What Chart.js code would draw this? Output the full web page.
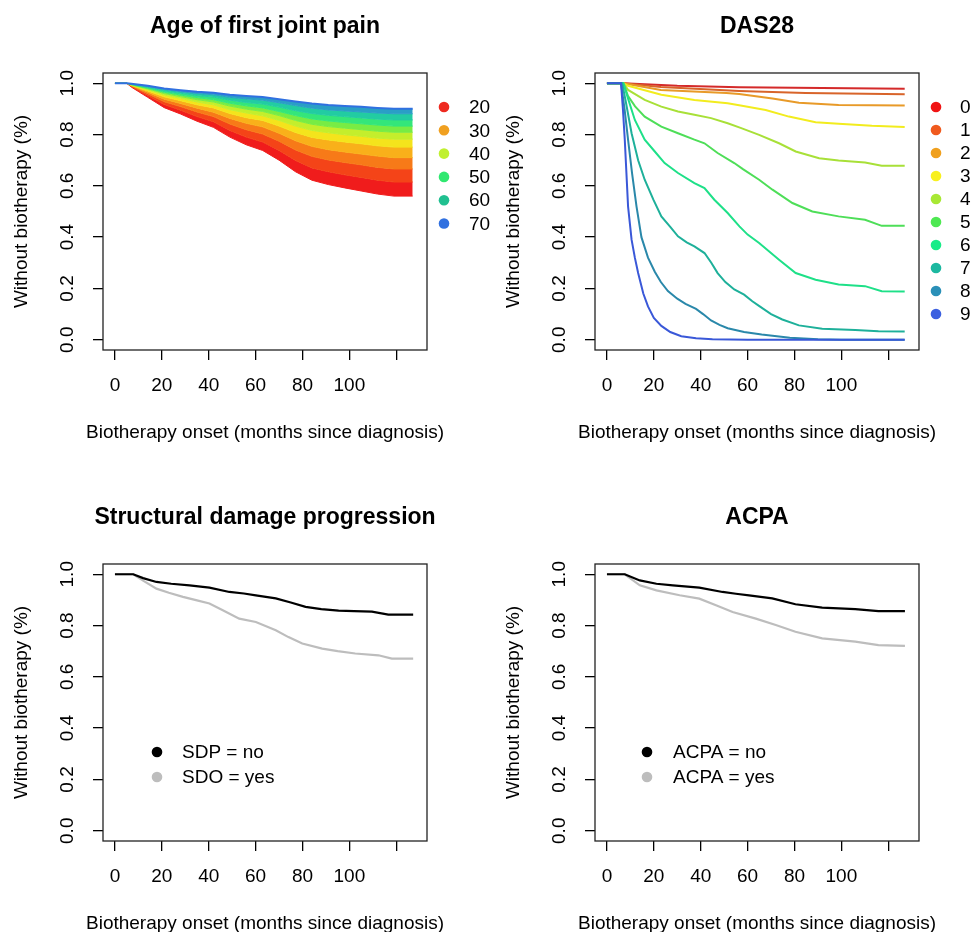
<!DOCTYPE html>
<html><head><meta charset="utf-8">
<script src="https://cdn.jsdelivr.net/npm/chart.js@4.4.1/dist/chart.umd.min.js"></script>
<style>
html,body{margin:0;padding:0;background:#fff;overflow:hidden;width:973px;height:932px;position:relative;}
canvas{position:absolute;}
</style></head><body>
<canvas id="c1" width="492" height="491" style="left:0;top:0"></canvas>
<canvas id="c2" width="492" height="491" style="left:492px;top:0"></canvas>
<canvas id="c3" width="492" height="491" style="left:0;top:491px"></canvas>
<canvas id="c4" width="492" height="491" style="left:492px;top:491px"></canvas>
<script>
// ---------- axis ticks ----------
const xTicks = [0, 20, 40, 60, 80, 100, 120];
const xTickLabels = ['0', '20', '40', '60', '80', '100', ''];
const yTicks = [0, 0.2, 0.4, 0.6, 0.8, 1.0];
const yTickLabels = ['0.0', '0.2', '0.4', '0.6', '0.8', '1.0'];
const xTitle = 'Biotherapy onset (months since diagnosis)';
const yTitle = 'Without biotherapy (%)';

// ---------- Panel 1: Age of first joint pain ----------
const ageTimes = [0, 5, 7, 14, 21, 28, 35, 42, 49, 56, 63, 70, 77, 84, 91, 98, 105, 112, 119, 127];
const age70 = [1, 1, 0.998, 0.990, 0.980, 0.973, 0.967, 0.963, 0.955, 0.950, 0.946, 0.938, 0.929, 0.921, 0.915, 0.911, 0.908, 0.904, 0.901, 0.901];
const age65 = [1, 1, 0.997, 0.987, 0.976, 0.967, 0.960, 0.955, 0.945, 0.939, 0.934, 0.924, 0.913, 0.903, 0.896, 0.892, 0.888, 0.884, 0.881, 0.881];
const age60 = [1, 1, 0.996, 0.984, 0.970, 0.961, 0.952, 0.946, 0.934, 0.925, 0.919, 0.907, 0.893, 0.882, 0.875, 0.870, 0.865, 0.860, 0.857, 0.857];
const age55 = [1, 1, 0.995, 0.981, 0.965, 0.954, 0.944, 0.936, 0.922, 0.912, 0.904, 0.890, 0.874, 0.861, 0.853, 0.847, 0.842, 0.837, 0.833, 0.833];
const age50 = [1, 1, 0.994, 0.978, 0.960, 0.948, 0.936, 0.927, 0.911, 0.899, 0.890, 0.874, 0.855, 0.840, 0.831, 0.825, 0.819, 0.813, 0.809, 0.809];
const age45 = [1, 1, 0.993, 0.974, 0.954, 0.941, 0.927, 0.916, 0.897, 0.884, 0.873, 0.855, 0.833, 0.816, 0.807, 0.799, 0.793, 0.786, 0.782, 0.782];
const age40 = [1, 1, 0.992, 0.970, 0.947, 0.932, 0.916, 0.904, 0.882, 0.866, 0.855, 0.833, 0.808, 0.789, 0.779, 0.771, 0.764, 0.756, 0.751, 0.751];
const age35 = [1, 1, 0.991, 0.965, 0.938, 0.921, 0.903, 0.887, 0.863, 0.844, 0.830, 0.805, 0.776, 0.754, 0.741, 0.732, 0.724, 0.716, 0.710, 0.710];
const age30 = [1, 1, 0.989, 0.959, 0.928, 0.909, 0.888, 0.870, 0.841, 0.819, 0.802, 0.774, 0.740, 0.715, 0.701, 0.691, 0.682, 0.672, 0.666, 0.666];
const age25 = [1, 1, 0.987, 0.952, 0.917, 0.895, 0.870, 0.850, 0.816, 0.790, 0.771, 0.738, 0.699, 0.670, 0.655, 0.643, 0.633, 0.622, 0.615, 0.615];
const age20 = [1, 1, 0.985, 0.945, 0.905, 0.880, 0.852, 0.828, 0.790, 0.760, 0.738, 0.700, 0.655, 0.622, 0.605, 0.592, 0.580, 0.568, 0.560, 0.560];
const ageCurves = [age70, age65, age60, age55, age50, age45, age40, age35, age30, age25, age20];
const ageCurveColors = ['#3070e0', '#2a9ec6', '#22cca2', '#34e67a', '#78ec44', '#c4ee2c', '#f4e41c', '#f9b01a', '#f77a18', '#f44418', '#f01c1c'];
const ageLegendLabels = ['20', '30', '40', '50', '60', '70'];
const ageLegendColors = ['#ee2a20', '#f0a020', '#c0f030', '#30e870', '#20c090', '#3070e0'];

// ---------- Panel 2: DAS28 ----------
const das0T = [0, 7, 30, 56.4, 127];
const das0S = [1, 1, 0.990, 0.984, 0.979];
const das1T = [0, 7, 23, 56.4, 84.7, 127];
const das1S = [1, 1, 0.985, 0.970, 0.962, 0.957];
const das2T = [0, 7, 23, 51, 56.4, 70.6, 81.9, 98.8, 127];
const das2S = [1, 1, 0.974, 0.962, 0.958, 0.941, 0.924, 0.915, 0.913];
const das3T = [0, 7, 9, 23.2, 37.3, 51.5, 57, 67.7, 77.6, 89, 98.8, 113, 127];
const das3S = [1, 1, 0.990, 0.955, 0.935, 0.922, 0.913, 0.896, 0.870, 0.848, 0.842, 0.834, 0.829];
const das4T = [0, 7, 9, 16.1, 23.2, 30.3, 37.3, 44.4, 51.5, 57, 64.9, 73.4, 80.5, 90.5, 98.8, 110.1, 117.2, 127];
const das4S = [1, 1, 0.974, 0.935, 0.909, 0.890, 0.877, 0.864, 0.844, 0.826, 0.799, 0.766, 0.734, 0.708, 0.699, 0.691, 0.678, 0.678];
const das5T = [0, 7, 9, 12, 16.1, 23.2, 30.3, 37.3, 41.6, 47.2, 54.3, 58, 64.9, 70.6, 79.1, 87.6, 98.8, 110.1, 117.2, 127];
const das5S = [1, 1, 0.950, 0.910, 0.870, 0.831, 0.805, 0.780, 0.766, 0.728, 0.689, 0.665, 0.624, 0.585, 0.533, 0.500, 0.481, 0.468, 0.444, 0.444];
const das6T = [0, 7, 9, 11.9, 16.1, 20.4, 24.6, 30.3, 37.3, 41.6, 45.8, 51.5, 56.5, 60, 64.9, 73.4, 80.5, 89, 98.8, 110.1, 117.2, 127];
const das6S = [1, 1, 0.940, 0.857, 0.780, 0.734, 0.689, 0.650, 0.611, 0.591, 0.546, 0.494, 0.442, 0.410, 0.377, 0.312, 0.260, 0.234, 0.215, 0.209, 0.189, 0.188];
const das7T = [0, 6.5, 8, 10.5, 13.3, 16.1, 19.8, 23.2, 27, 30.3, 34, 37.3, 41.6, 44.5, 47.2, 50.5, 54.3, 58.5, 62, 65, 70, 74.8, 81.9, 91.8, 105.9, 115.8, 127];
const das7S = [1, 1, 0.930, 0.805, 0.700, 0.624, 0.546, 0.481, 0.440, 0.403, 0.380, 0.364, 0.338, 0.300, 0.260, 0.225, 0.196, 0.176, 0.150, 0.131, 0.100, 0.079, 0.056, 0.043, 0.038, 0.033, 0.032];
const das8T = [0, 6, 7.5, 9, 10.7, 12.6, 14.7, 17.5, 20.4, 23, 26, 30, 33.5, 38, 41, 44.4, 48, 51.5, 58.5, 66, 78, 90, 100, 127];
const das8S = [1, 1, 0.900, 0.780, 0.650, 0.520, 0.400, 0.320, 0.265, 0.225, 0.190, 0.160, 0.140, 0.120, 0.100, 0.075, 0.058, 0.045, 0.030, 0.020, 0.008, 0.002, 0, 0];
const das9T = [0, 6, 6.8, 7.6, 8.3, 9, 10.5, 11.9, 13.3, 15.5, 17.5, 20, 23.2, 27, 31.7, 38, 45, 60, 127];
const das9S = [1, 1, 0.900, 0.780, 0.650, 0.520, 0.390, 0.320, 0.260, 0.180, 0.130, 0.085, 0.054, 0.030, 0.014, 0.006, 0.002, 0, 0];
const dasTimes = [das0T, das1T, das2T, das3T, das4T, das5T, das6T, das7T, das8T, das9T];
const dasValues = [das0S, das1S, das2S, das3S, das4S, das5S, das6S, das7S, das8S, das9S];
const dasLineColors = ['#d42a2a', '#d8642a', '#e89a28', '#f2ec1e', '#a8e038', '#4ede58', '#1ee088', '#1eb09a', '#2a88aa', '#3a58d8'];
const dasLegendLabels = ['0', '1', '2', '3', '4', '5', '6', '7', '8', '9'];
const dasLegendColors = ['#f01414', '#f05a1e', '#f0a01e', '#f8f01e', '#a8e834', '#4ee852', '#18ec88', '#1cb8a0', '#2a90b8', '#3c60e0'];

// ---------- Panel 3: Structural damage progression ----------
const sdpNoT = [0, 7.8, 12, 17.7, 24, 31.8, 40.3, 48.8, 55, 60.1, 68.6, 75, 81.3, 88, 95.4, 102, 109.6, 116.6, 127.2];
const sdpNoS = [1, 1, 0.985, 0.970, 0.963, 0.957, 0.948, 0.931, 0.925, 0.918, 0.906, 0.890, 0.873, 0.864, 0.858, 0.856, 0.854, 0.843, 0.843];
const sdpYesT = [0, 7.8, 12, 17.7, 23, 29, 35, 40.3, 46, 53, 60.1, 68.6, 74, 79.9, 88.4, 95, 102.5, 112.4, 118.1, 127.2];
const sdpYesS = [1, 1, 0.975, 0.944, 0.928, 0.912, 0.898, 0.886, 0.860, 0.827, 0.814, 0.782, 0.755, 0.730, 0.710, 0.700, 0.691, 0.684, 0.671, 0.671];
const sdpLegendLabels = ['SDP = no', 'SDO = yes'];

// ---------- Panel 4: ACPA ----------
const acpaNoT = [0, 7.6, 14, 21.1, 28.1, 39.4, 49.3, 55, 60.6, 70.5, 80.4, 91.8, 105.9, 115.8, 127.1];
const acpaNoS = [1, 1, 0.976, 0.963, 0.957, 0.948, 0.931, 0.924, 0.918, 0.906, 0.883, 0.870, 0.864, 0.856, 0.856];
const acpaYesT = [0, 7.6, 14, 21.1, 31, 39.4, 46.5, 53.6, 63.5, 72, 80.4, 91.8, 105.9, 115.8, 127.1];
const acpaYesS = [1, 1, 0.957, 0.937, 0.918, 0.905, 0.879, 0.853, 0.827, 0.802, 0.776, 0.750, 0.737, 0.724, 0.721];
const acpaLegendLabels = ['ACPA = no', 'ACPA = yes'];

const binaryColors = ['#000000', '#bdbdbd'];

// ---------- helpers ----------
const FONT = '"Liberation Sans", Arial, Helvetica, sans-serif';
Chart.defaults.font.family = FONT;
Chart.defaults.color = '#000';

function pts(t, s) { return t.map((v, i) => ({ x: v, y: s[i] })); }

const decor = {
  id: 'decor',
  afterDraw(chart, args, o) {
    const ctx = chart.ctx, a = chart.chartArea;
    const cx = (a.left + a.right) / 2;
    ctx.save();
    ctx.strokeStyle = '#222'; ctx.lineWidth = 1.3;
    ctx.strokeRect(a.left, a.top, a.right - a.left, a.bottom - a.top);
    ctx.fillStyle = '#000';
    ctx.font = 'bold 23px ' + FONT;
    ctx.textAlign = 'center'; ctx.textBaseline = 'alphabetic';
    ctx.fillText(o.title, cx, 33);
    ctx.font = '19px ' + FONT;
    ctx.fillText(xTitle, cx, 438);
    ctx.textAlign = 'left'; ctx.textBaseline = 'middle';
    o.labels.forEach((lab, i) => {
      const y = o.y0 + i * o.dy;
      ctx.beginPath(); ctx.arc(o.x0, y, 5.3, 0, Math.PI * 2);
      ctx.fillStyle = o.colors[i]; ctx.fill();
      ctx.fillStyle = '#000'; ctx.fillText(lab, o.tx, y + 1);
    });
    ctx.restore();
  }
};

function makeScales() {
  return {
    x: {
      type: 'linear', min: -5.1, max: 133.1,
      afterBuildTicks: s => { s.ticks = xTicks.map(v => ({ value: v })); },
      afterFit: s => { s.height = 141; },
      grid: { drawOnChartArea: false, drawTicks: true, tickLength: 10, color: '#000', lineWidth: 1.3 },
      border: { display: false },
      ticks: { autoSkip: false, maxRotation: 0, padding: 14, color: '#000', font: { size: 19 },
               callback: v => xTickLabels[xTicks.indexOf(v)] },
      title: { display: false }
    },
    y: {
      type: 'linear', min: -0.04, max: 1.04,
      afterBuildTicks: s => { s.ticks = yTicks.map(v => ({ value: v })); },
      afterFit: s => { s.width = 103; },
      grid: { drawOnChartArea: false, drawTicks: true, tickLength: 10, color: '#000', lineWidth: 1.3 },
      border: { display: false },
      ticks: { autoSkip: false, minRotation: 90, maxRotation: 90, crossAlign: 'center', padding: 12,
               color: '#000', font: { size: 19 }, callback: v => yTickLabels[yTicks.indexOf(v)] },
      title: { display: true, text: yTitle, color: '#000', font: { size: 19 }, padding: { top: 10, bottom: 0 } }
    }
  };
}

function makeChart(id, datasets, decorOpts) {
  return new Chart(document.getElementById(id), {
    type: 'line',
    data: { datasets },
    options: {
      responsive: false, animation: false, devicePixelRatio: 1,
      layout: { padding: { top: 73, left: 0, right: 65, bottom: 0 } },
      elements: { point: { radius: 0 }, line: { tension: 0 } },
      plugins: { legend: { display: false }, title: { display: false }, tooltip: { enabled: false }, decor: decorOpts },
      scales: makeScales()
    },
    plugins: [decor]
  });
}

// Panel 1
makeChart('c1', ageCurves.map((c, i) => ({
  data: pts(ageTimes, c),
  borderColor: ageCurveColors[i], borderWidth: i === 0 ? 2 : 1,
  backgroundColor: ageCurveColors[i],
  fill: i === 0 ? false : '-1'
})), { title: 'Age of first joint pain', labels: ageLegendLabels, colors: ageLegendColors, x0: 444, tx: 469, y0: 107, dy: 23.3 });

// Panel 2
makeChart('c2', dasTimes.map((t, i) => ({
  data: pts(t, dasValues[i]),
  borderColor: dasLineColors[i], borderWidth: 2, fill: false
})).reverse(), { title: 'DAS28', labels: dasLegendLabels, colors: dasLegendColors, x0: 444, tx: 468, y0: 107, dy: 23 });

// Panel 3
makeChart('c3', [
  { data: pts(sdpNoT, sdpNoS), borderColor: binaryColors[0], borderWidth: 2.2, fill: false },
  { data: pts(sdpYesT, sdpYesS), borderColor: binaryColors[1], borderWidth: 2.2, fill: false }
], { title: 'Structural damage progression', labels: sdpLegendLabels, colors: binaryColors, x0: 157, tx: 182, y0: 261, dy: 25 });

// Panel 4
makeChart('c4', [
  { data: pts(acpaNoT, acpaNoS), borderColor: binaryColors[0], borderWidth: 2.2, fill: false },
  { data: pts(acpaYesT, acpaYesS), borderColor: binaryColors[1], borderWidth: 2.2, fill: false }
], { title: 'ACPA', labels: acpaLegendLabels, colors: binaryColors, x0: 155, tx: 181, y0: 261, dy: 25 });
</script>
</body></html>
